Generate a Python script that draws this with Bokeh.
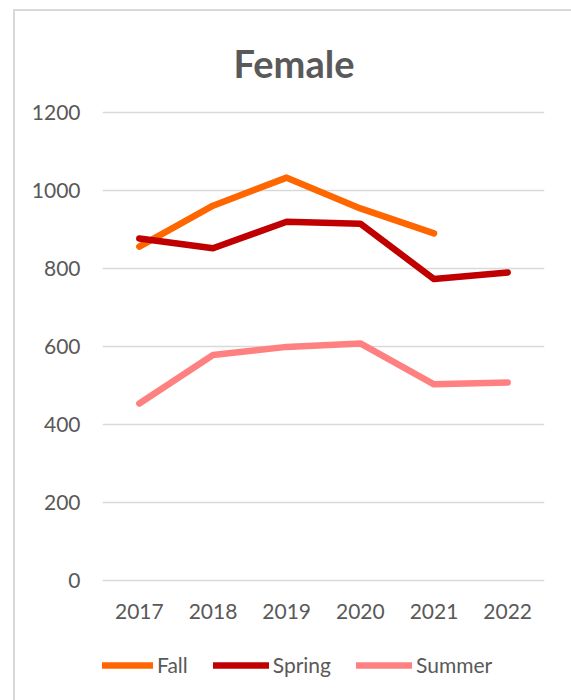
from bokeh.plotting import figure
from bokeh.layouts import column
from bokeh.models import Range1d, FactorRange, Legend, LegendItem
from bokeh.embed import file_html
from bokeh.resources import INLINE

years = ["2017", "2018", "2019", "2020", "2021", "2022"]
fall_years = ["2017", "2018", "2019", "2020", "2021"]
fall = [856, 961, 1033, 954, 890]
spring = [877, 852, 920, 915, 773, 790]
summer = [454, 578, 599, 608, 503, 508]
y_ticks = [0, 200, 400, 600, 800, 1000, 1200]
series_names = ["Fall", "Spring", "Summer"]
series_colors = ["#FF6600", "#C00000", "#FF8080"]

FONT = "Lato"
TXT = "#595959"
GRID = "#d9d9d9"
LW = 6.5
NAN = float("nan")

p = figure(width=556, height=619, x_range=FactorRange(*years), y_range=Range1d(-5.128, 1205.128),
           output_backend="svg", toolbar_location=None,
           min_border_left=87, min_border_right=27, min_border_top=99, min_border_bottom=48)
p.outline_line_color = None
p.background_fill_color = "white"
p.border_fill_color = "white"

p.title.text = "Female"
p.title.align = "left"
p.title.offset = 131
p.title.standoff = 50
p.title.text_font = FONT
p.title.text_font_size = "38px"
p.title.text_font_style = "bold"
p.title.text_color = TXT

p.yaxis.ticker = y_ticks
p.xgrid.grid_line_color = None
p.ygrid.grid_line_color = GRID
p.ygrid.grid_line_width = 1.5
for ax in (p.xaxis[0], p.yaxis[0]):
    ax.axis_line_color = None
    ax.major_tick_line_color = None
    ax.minor_tick_line_color = None
    ax.major_label_text_font = FONT
    ax.major_label_text_font_size = "21px"
    ax.major_label_text_color = TXT
p.yaxis.major_label_standoff = 16
p.xaxis.major_label_standoff = 15

p.line(fall_years, fall, line_color=series_colors[0], line_width=LW, line_cap="round", line_join="round")
p.line(years, spring, line_color=series_colors[1], line_width=LW, line_cap="round", line_join="round")
p.line(years, summer, line_color=series_colors[2], line_width=LW, line_cap="round", line_join="round")

# legend strip below the chart (its frame is aligned with the chart frame)
pl = figure(width=556, height=70, x_range=Range1d(0, 1), y_range=Range1d(0, 1),
            output_backend="svg", toolbar_location=None, min_border=0,
            x_axis_type=None, y_axis_type=None)
pl.outline_line_color = None
pl.grid.grid_line_color = None
pl.border_fill_color = "white"
items = []
for name, col in zip(series_names, series_colors):
    r = pl.line(x=[NAN], y=[NAN], line_color=col, line_width=LW, line_cap="round")
    items.append(LegendItem(label=name, renderers=[r]))
legend = Legend(items=items, orientation="horizontal", location=(-5, 23),
                padding=0, margin=0, spacing=25, label_standoff=4,
                glyph_width=56, glyph_height=24, label_height=24,
                label_text_font=FONT, label_text_font_size="21px", label_text_color=TXT,
                border_line_color=None, background_fill_alpha=0)
pl.add_layout(legend)

layout = column(p, pl, spacing=0, margin=(9, 0, 0, 13),
                styles={"border-top": "2px solid #d9d9d9", "border-left": "2px solid #d9d9d9"})

open("out.html", "w").write(file_html(layout, INLINE))
